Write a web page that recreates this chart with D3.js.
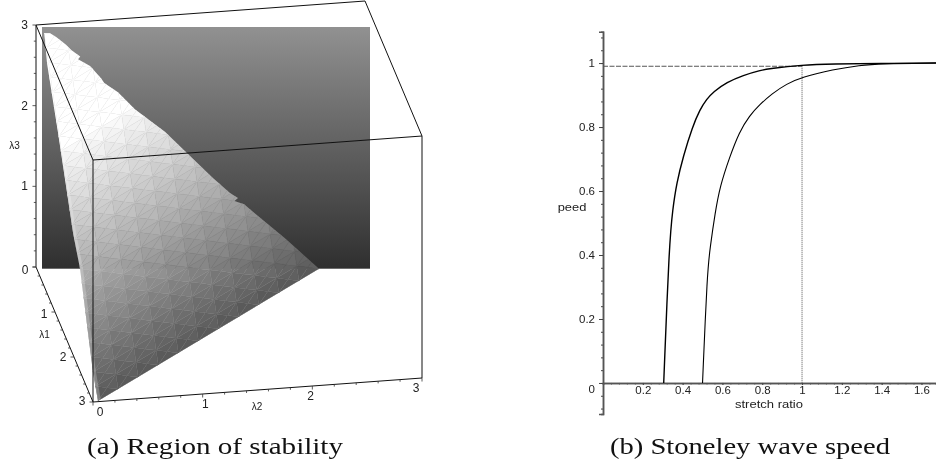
<!DOCTYPE html>
<html>
<head>
<meta charset="utf-8">
<script src="https://cdn.jsdelivr.net/npm/d3@7"></script>
<style>
  html, body { margin: 0; padding: 0; background: #fff; }
  svg { display: block; filter: blur(0.4px); }
  text { font-family: "Liberation Sans", sans-serif; fill: #222; }
  .caption { font-family: "Liberation Serif", serif; font-size: 24px; fill: #111; }
  .domain { stroke: #555; stroke-width: 1.5; }
</style>
</head>
<body>
<div id="chart"></div>
<script>
let svgWidth = 936;
let svgHeight = 469;

// (b) Stoneley wave speed, two curves
let thickX = [0.305, 0.333, 0.35, 0.37, 0.4035, 0.449, 0.487, 0.521, 0.554, 0.622, 0.705, 0.789, 0.839, 0.998, 1.156, 1.392, 1.673];
let thickY = [0, 0.4375, 0.542, 0.625, 0.709, 0.8, 0.855, 0.887, 0.91, 0.94, 0.962, 0.977, 0.983, 0.994, 0.997, 0.999, 1];
let thinX = [0.5, 0.524, 0.538, 0.563, 0.588, 0.635, 0.685, 0.735, 0.789, 0.848, 0.923, 0.998, 1.157, 1.291, 1.392, 1.673];
let thinY = [0, 0.3486, 0.422, 0.531, 0.615, 0.704, 0.785, 0.835, 0.871, 0.904, 0.935, 0.956, 0.98, 0.993, 0.998, 1];
let markerX = [1];
let markerY = [0.99];
let speedMajor = [0, 0.2, 0.4, 0.6, 0.8, 1];
let speedMajorLabels = ["0", "0.2", "0.4", "0.6", "0.8", "1"];
let ratioMajor = [0.2, 0.4, 0.6, 0.8, 1, 1.2, 1.4, 1.6];
let ratioMajorLabels = ["0.2", "0.4", "0.6", "0.8", "1", "1.2", "1.4", "1.6"];

// (a) Region of stability, outline of the lit surface in lambda2 / lambda3 units
let regionA = [0.02, 0.07, 0.13, 0.22, 0.27, 0.35, 0.33, 0.44, 0.54, 0.57, 0.695, 0.85, 1.125, 1.326, 1.564, 1.72, 1.793, 1.76, 1.85, 1.9, 2.22, 2.534, 0.512, 0.466, 0.348, 0.284, 0.147, 0.046, 0.023];
let regionB = [2.925, 2.925, 2.875, 2.78, 2.71, 2.635, 2.6, 2.515, 2.365, 2.305, 2.19, 1.98, 1.7, 1.435, 1.125, 0.94, 0.877, 0.84, 0.8, 0.74, 0.38, 0, -1.643, -1.287, 0.0, 0.443, 1.684, 2.55, 2.9];
let leftEdgeStart = 22;
let lambda3Ticks = [1, 2, 3];
let cubeTicks = [0, 1, 2, 3];
let wallShades = [47, 145];      // grey of back wall, bottom and top
let surfaceStops = [0, 0.23, 0.46, 0.7];
let surfaceShades = [88, 144, 200, 255];

let svg = d3.select("#chart")
    .append("svg")
    .attr("width", svgWidth)
    .attr("height", svgHeight);

let grey = v => { let g = Math.round(v); return `rgb(${g},${g},${g})`; };

// ---------- left chart ----------

// cube axes, each lambda runs 0..3 on screen
let l1x = d3.scaleLinear().domain([0, 3]).range([0, 57]);
let l1y = d3.scaleLinear().domain([0, 3]).range([0, 135]);
let l2x = d3.scaleLinear().domain([0, 3]).range([0, 329]);
let l2y = d3.scaleLinear().domain([0, 3]).range([0, -24]);
let l3y = d3.scaleLinear().domain([0, 3]).range([0, -242]);
let project = (a, b, c) => [36 + l1x(a) + l2x(b), 267 + l1y(a) + l2y(b) + l3y(c)];

// the plot surfaces are flat on the screen
let panelX = d3.scaleLinear().domain([0, 3]).range([42, 370]);
let panelY = d3.scaleLinear().domain([0, 3]).range([268.7, 27]);

let defs = svg.append("defs");
let wallGrad = defs.append("linearGradient")
    .attr("id", "wall")
    .attr("x1", 0).attr("x2", 0).attr("y1", 1).attr("y2", 0);
wallShades.forEach((s, i) => {
    wallGrad.append("stop").attr("offset", i).attr("stop-color", grey(s));
});

svg.append("rect")
    .attr("x", panelX(0))
    .attr("y", panelY(3))
    .attr("width", panelX(3) - panelX(0))
    .attr("height", panelY(0) - panelY(3))
    .attr("fill", "url(#wall)");

let outline = regionA.map((a, i) => [panelX(a), panelY(regionB[i])]);

defs.append("clipPath").attr("id", "regionClip")
    .append("path")
    .attr("d", d3.line()(outline) + "Z");

// faceted surface, corners of the triangle in panel units
let cornerA = [panelX(0.512), panelY(-1.643)];
let cornerB = [panelX(2.534), panelY(0)];
let cornerC = [panelX(0.02), panelY(2.925)];
let nU = 11;
let nV = 25;
let shade = d3.scaleLinear().domain(surfaceStops).range(surfaceShades).clamp(true);
let facetOffset = [-3, 3, 3, -3];
let meshPoint = (u, v) => [
    cornerA[0] + (u / nU) * (cornerB[0] - cornerA[0]) + (v / nV) * (cornerC[0] - cornerA[0]),
    cornerA[1] + (u / nU) * (cornerB[1] - cornerA[1]) + (v / nV) * (cornerC[1] - cornerA[1])
];

let facets = [];
d3.range(-1, nV + 1).forEach(j => {
    d3.range(-2, nU + 1).forEach(i => {
        let mid = meshPoint(i + 0.5, j + 0.5);
        let corners = [meshPoint(i, j), meshPoint(i + 1, j), meshPoint(i + 1, j + 1), meshPoint(i, j + 1)];
        let base = shade((j + 0.5) / nV);
        corners.forEach((c, k) => {
            facets.push({
                pts: [c, corners[(k + 1) % 4], mid],
                fill: grey(base >= 255 ? 255 : Math.min(255, base + facetOffset[k]))
            });
        });
    });
});

let surface = svg.append("g").attr("clip-path", "url(#regionClip)");
surface.selectAll("path")
    .data(facets)
    .enter()
    .append("path")
    .attr("d", d => d3.line()(d.pts) + "Z")
    .attr("fill", d => d.fill)
    .attr("stroke", d => d.fill)
    .attr("stroke-width", 0.4);

// lighter fringe on the left edge
surface.append("path")
    .attr("d", d3.line()(outline.slice(leftEdgeStart)))
    .attr("fill", "none")
    .attr("stroke", "#fff")
    .attr("stroke-opacity", 0.22)
    .attr("stroke-width", 6);

// box
let boxLines = [
    [[0, 0, 3], [0, 3, 3]],
    [[0, 3, 3], [3, 3, 3]],
    [[3, 3, 3], [3, 0, 3]],
    [[3, 0, 3], [0, 0, 3]],
    [[3, 3, 3], [3, 3, 0]],
    [[3, 0, 3], [3, 0, 0]],
    [[3, 0, 0], [3, 3, 0]],
    [[0, 0, 0], [3, 0, 0]],
    [[0, 0, 0], [0, 0, 3]]
];
svg.selectAll("line.box")
    .data(boxLines)
    .enter()
    .append("line")
    .attr("class", "box")
    .attr("x1", d => project(...d[0])[0])
    .attr("y1", d => project(...d[0])[1])
    .attr("x2", d => project(...d[1])[0])
    .attr("y2", d => project(...d[1])[1])
    .attr("stroke", "#111")
    .attr("stroke-width", 1);

// cube ticks, five steps per unit
let cubeMinor = d3.range(0, 16).map(d => d / 5);
let addCubeTicks = (point, dx, dy) => {
    cubeMinor.forEach((t, i) => {
        let p = point(t);
        let len = i % 5 === 0 ? 1.6 : 1;
        svg.append("line")
            .attr("x1", p[0]).attr("y1", p[1])
            .attr("x2", p[0] + dx * len).attr("y2", p[1] + dy * len)
            .attr("stroke", "#333")
            .attr("stroke-width", 0.8);
    });
};
addCubeTicks(t => project(0, 0, t), -2.2, 0);
addCubeTicks(t => project(t, 0, 0), -2.2, 0);
addCubeTicks(t => project(3, t, 0), 0, 2.2);

let cubeLabels = (ticks, labelX, labelY) => {
    ticks.forEach(t => {
        svg.append("text")
            .attr("x", labelX(t))
            .attr("y", labelY(t))
            .attr("text-anchor", "middle")
            .attr("font-size", 12)
            .text(t);
    });
};
// labels sit a small offset from their axis
cubeLabels(lambda3Ticks, t => project(0, 0, t)[0] - 11.5, t => project(0, 0, t)[1] + 4);
cubeLabels(cubeTicks, t => project(t, 0, 0)[0] - 11, t => project(t, 0, 0)[1] + 7 - t * 1.33);
cubeLabels(cubeTicks, t => project(3, t, 0)[0] + 7 - t * 4.33, t => project(3, t, 0)[1] + 14);

svg.append("text").attr("x", 14.5).attr("y", 149).attr("text-anchor", "middle")
    .attr("font-size", 10).attr("font-family", "Liberation Serif").text("λ3");
svg.append("text").attr("x", 44.5).attr("y", 338).attr("text-anchor", "middle")
    .attr("font-size", 10).attr("font-family", "Liberation Serif").text("λ1");
svg.append("text").attr("x", 257).attr("y", 410).attr("text-anchor", "middle")
    .attr("font-size", 10).attr("font-family", "Liberation Serif").text("λ2");

// ---------- right chart ----------

let xScale = d3.scaleLinear().domain([0, 1.673]).range([603, 936]);
let yScale = d3.scaleLinear().domain([-0.097, 1.098]).range([414, 31.7]);

let xMinor = d3.range(1, 42).map(d => d / 25);
let yMinor = d3.range(-2, 28).map(d => d / 25);

let yMinorAxis = d3.axisLeft(yScale).tickValues(yMinor).tickSize(2).tickFormat("");
let yAxis = d3.axisLeft(yScale)
    .tickValues(speedMajor)
    .tickSize(4)
    .tickFormat((d, i) => speedMajorLabels[i]);
let xMinorAxis = d3.axisBottom(xScale).tickValues(xMinor).tickSize(1.5).tickFormat("");
let xAxis = d3.axisBottom(xScale)
    .tickValues(ratioMajor)
    .tickSize(2)
    .tickPadding(1)
    .tickFormat((d, i) => ratioMajorLabels[i]);

let styleAxis = g => {
    g.selectAll(".tick line").attr("stroke", "#444");
    g.selectAll("text").attr("font-size", 11.5).attr("font-family", "Liberation Sans").attr("fill", "#222");
};

let yG = svg.append("g").attr("transform", `translate(${xScale(0)},0)`);
yG.append("g").call(yMinorAxis).call(styleAxis);
yG.append("g").call(yAxis).call(styleAxis);
yG.selectAll(".tick text")
    .filter(d => d === 0)
    .attr("dy", "0.8em");
yG.selectAll(".tick text").attr("x", -8);

let xG = svg.append("g").attr("transform", `translate(0,${yScale(0)})`);
xG.append("g").call(xMinorAxis).call(styleAxis);
xG.append("g").call(xAxis).call(styleAxis);

svg.append("text")
    .attr("x", 769).attr("y", 408)
    .attr("text-anchor", "middle")
    .attr("font-size", 11)
    .attr("textLength", 68)
    .attr("lengthAdjust", "spacingAndGlyphs")
    .text("stretch ratio");
svg.append("text")
    .attr("x", 572).attr("y", 211)
    .attr("text-anchor", "middle")
    .attr("font-size", 11)
    .attr("textLength", 28.7)
    .attr("lengthAdjust", "spacingAndGlyphs")
    .text("peed");

// marker lines at stretch ratio 1
svg.append("line")
    .attr("x1", xScale(0)).attr("x2", xScale(markerX[0]))
    .attr("y1", yScale(markerY[0])).attr("y2", yScale(markerY[0]))
    .attr("stroke", "#555").attr("stroke-dasharray", "5,1.5");
svg.append("line")
    .attr("x1", xScale(markerX[0])).attr("x2", xScale(markerX[0]))
    .attr("y1", yScale(markerY[0])).attr("y2", yScale(0))
    .attr("stroke", "#555").attr("stroke-dasharray", "1,1");

let curve = d3.line()
    .x(d => xScale(d[0]))
    .y(d => yScale(d[1]))
    .curve(d3.curveBasis);

svg.append("path")
    .attr("d", curve(thickX.map((x, i) => [x, thickY[i]])))
    .attr("fill", "none").attr("stroke", "#000").attr("stroke-width", 1.4);
svg.append("path")
    .attr("d", curve(thinX.map((x, i) => [x, thinY[i]])))
    .attr("fill", "none").attr("stroke", "#000").attr("stroke-width", 1.1);

// captions
svg.append("text").attr("class", "caption").attr("x", 215).attr("y", 454)
    .attr("text-anchor", "middle")
    .attr("textLength", 256).attr("lengthAdjust", "spacingAndGlyphs")
    .text("(a) Region of stability");
svg.append("text").attr("class", "caption").attr("x", 750).attr("y", 454)
    .attr("text-anchor", "middle")
    .attr("textLength", 280).attr("lengthAdjust", "spacingAndGlyphs")
    .text("(b) Stoneley wave speed");
</script>
</body>
</html>
